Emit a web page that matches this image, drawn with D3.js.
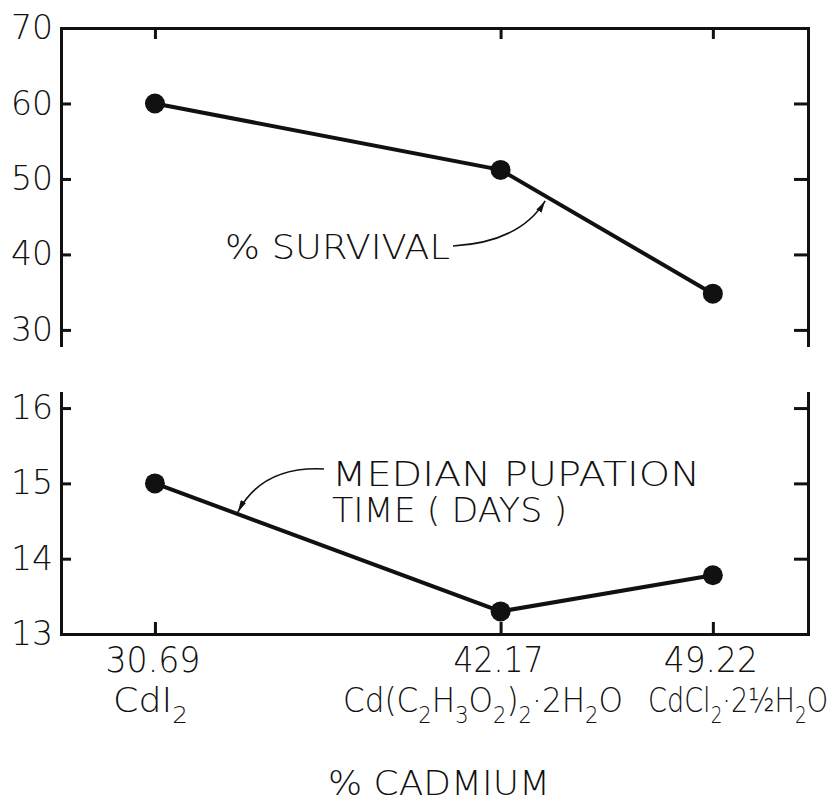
<!DOCTYPE html>
<html>
<head>
<meta charset="utf-8">
<script src="https://cdn.jsdelivr.net/npm/d3@7"></script>
<style>
  body { margin: 0; background: #fff; }
  text { font-family: "DejaVu Sans", sans-serif; font-weight: 200; fill: #111; }
  .axis path, .axis line { stroke: #111; stroke-width: 3; }
  .axis text { font-size: 33px; }
</style>
</head>
<body>
<div id="chart"></div>
<script>
// data
const cadmium = [30.69, 42.17, 49.22];
const cadmiumLabels = ["30.69", "42.17", "49.22"];
const compounds = ["CdI_2", "Cd(C_2H_3O_2)_2·2H_2O", "CdCl_2·2½H_2O"];
const survival = [60, 51.2, 34.8];
const pupation = [15.0, 13.3, 13.78];
const survivalTicks = [30, 40, 50, 60, 70];
const pupationTicks = [13, 14, 15, 16];

const W = 837, H = 802;
const left = 61, right = 808;

const svg = d3.select("#chart").append("svg")
    .attr("width", W)
    .attr("height", H)
    .style("background", "#fff");

const x = d3.scaleLinear()
    .domain([27.57, 52.38])
    .range([left, right]);

const yTop = d3.scaleLinear()
    .domain([28, 70])
    .range([345, 28]);

const yBot = d3.scaleLinear()
    .domain([13, 16.2])
    .range([634, 393]);

// top panel: left axis with labels, right axis ticks only, top border
svg.append("g")
    .attr("class", "axis")
    .attr("transform", "translate(" + left + ",0)")
    .call(d3.axisLeft(yTop).tickValues(survivalTicks).tickSizeInner(-10).tickSizeOuter(0).tickPadding(8));

svg.append("g")
    .attr("class", "axis")
    .attr("transform", "translate(" + right + ",0)")
    .call(d3.axisRight(yTop).tickValues(survivalTicks.slice(0, 4)).tickSizeInner(-14).tickSizeOuter(0).tickFormat(""));

svg.append("g")
    .attr("class", "axis")
    .attr("transform", "translate(0," + yTop(70) + ")")
    .call(d3.axisTop(x).tickValues(cadmium).tickSizeInner(-11).tickSizeOuter(0).tickFormat(""));

// bottom panel
svg.append("g")
    .attr("class", "axis")
    .attr("transform", "translate(" + left + ",0)")
    .call(d3.axisLeft(yBot).tickValues(pupationTicks).tickFormat(d3.format("d")).tickSizeInner(-10).tickSizeOuter(0).tickPadding(8));

svg.append("g")
    .attr("class", "axis")
    .attr("transform", "translate(" + right + ",0)")
    .call(d3.axisRight(yBot).tickValues(pupationTicks.slice(1)).tickSizeInner(-14).tickSizeOuter(0).tickFormat(""));

svg.append("g")
    .attr("class", "axis")
    .attr("transform", "translate(0," + yBot(13) + ")")
    .call(d3.axisBottom(x).tickValues(cadmium).tickSizeInner(-12).tickSizeOuter(0).tickFormat(""));

svg.selectAll(".axis .domain").attr("stroke-linecap", "square");

// x labels: % cadmium and compound
const numberWidth = [95, 90, 94];
svg.append("g").selectAll("text")
    .data(cadmiumLabels)
    .enter().append("text")
    .attr("x", function(d, i) { return x(cadmium[i]) - numberWidth[i] / 2 - 2; })
    .attr("y", 672)
    .attr("font-size", 35)
    .attr("textLength", function(d, i) { return numberWidth[i]; })
    .attr("lengthAdjust", "spacingAndGlyphs")
    .text(function(d) { return d; });

const formulaX = [113, 343, 648];
const formulaW = [75, 280, 180];
svg.append("g").selectAll("text")
    .data(compounds)
    .enter().append("text")
    .attr("x", function(d, i) { return formulaX[i]; })
    .attr("y", 712)
    .attr("font-size", 34)
    .attr("textLength", function(d, i) { return formulaW[i]; })
    .attr("lengthAdjust", "spacingAndGlyphs")
    .each(function(d) {
      const t = d3.select(this);
      const parts = d.split(/(_.)/).filter(function(p) { return p.length; });
      let shift = 0;
      parts.forEach(function(p) {
        if (p[0] === "_") {
          t.append("tspan").attr("font-size", 23).attr("dy", 11 - shift).text(p[1]);
          shift = 11;
        } else {
          t.append("tspan").attr("dy", -shift).text(p);
          shift = 0;
        }
      });
    });

svg.append("text")
    .attr("x", 328)
    .attr("y", 795)
    .attr("font-size", 33)
    .attr("textLength", 222)
    .attr("lengthAdjust", "spacingAndGlyphs")
    .text("% CADMIUM");

// lines and dots
const lineTop = d3.line()
    .x(function(d, i) { return x(cadmium[i]); })
    .y(function(d) { return yTop(d); });

const lineBot = d3.line()
    .x(function(d, i) { return x(cadmium[i]); })
    .y(function(d) { return yBot(d); });

svg.append("path")
    .datum(survival)
    .attr("d", lineTop)
    .attr("fill", "none")
    .attr("stroke", "#111")
    .attr("stroke-width", 4);

svg.append("path")
    .datum(pupation)
    .attr("d", lineBot)
    .attr("fill", "none")
    .attr("stroke", "#111")
    .attr("stroke-width", 4);

svg.append("g").selectAll("circle")
    .data(survival)
    .enter().append("circle")
    .attr("cx", function(d, i) { return x(cadmium[i]); })
    .attr("cy", function(d) { return yTop(d); })
    .attr("r", 10)
    .attr("fill", "#111");

svg.append("g").selectAll("circle")
    .data(pupation)
    .enter().append("circle")
    .attr("cx", function(d, i) { return x(cadmium[i]); })
    .attr("cy", function(d) { return yBot(d); })
    .attr("r", 10)
    .attr("fill", "#111");

// annotations
svg.append("defs").append("marker")
    .attr("id", "arrow")
    .attr("viewBox", "0 0 12 6")
    .attr("refX", 12)
    .attr("refY", 3)
    .attr("markerWidth", 12)
    .attr("markerHeight", 6)
    .attr("markerUnits", "userSpaceOnUse")
    .attr("orient", "auto")
    .append("path")
    .attr("d", "M0,0 L12,3 L0,6 Z")
    .attr("fill", "#111");

function along(values, scale, i, t) {
  const x0 = x(cadmium[i]), x1 = x(cadmium[i + 1]);
  const y0 = scale(values[i]), y1 = scale(values[i + 1]);
  return [x0 + (x1 - x0) * t, y0 + (y1 - y0) * t];
}

const tip1 = along(survival, yTop, 1, 0.21);
svg.append("path")
    .attr("d", "M453,246 Q520,242 " + tip1[0] + "," + (tip1[1] + 5))
    .attr("fill", "none")
    .attr("stroke", "#111")
    .attr("stroke-width", 1.6)
    .attr("marker-end", "url(#arrow)");

svg.append("text")
    .attr("x", 225)
    .attr("y", 259)
    .attr("font-size", 34)
    .attr("textLength", 225)
    .attr("lengthAdjust", "spacingAndGlyphs")
    .text("% SURVIVAL");

const tip2 = along(pupation, yBot, 0, 0.24);
svg.append("path")
    .attr("d", "M324,469 Q262,466 " + tip2[0] + "," + (tip2[1] - 2))
    .attr("fill", "none")
    .attr("stroke", "#111")
    .attr("stroke-width", 1.6)
    .attr("marker-end", "url(#arrow)");

svg.append("text")
    .attr("x", 332)
    .attr("y", 486)
    .attr("font-size", 33)
    .attr("textLength", 368)
    .attr("lengthAdjust", "spacingAndGlyphs")
    .text("MEDIAN  PUPATION");

svg.append("text")
    .attr("x", 332)
    .attr("y", 522)
    .attr("font-size", 33)
    .attr("textLength", 235)
    .attr("lengthAdjust", "spacingAndGlyphs")
    .text("TIME ( DAYS )");
</script>
</body>
</html>
